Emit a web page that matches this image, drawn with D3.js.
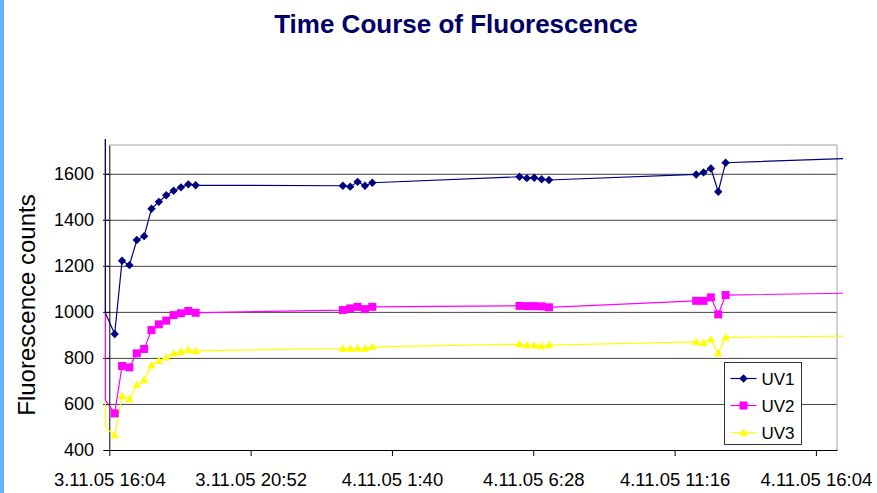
<!DOCTYPE html>
<html>
<head>
<meta charset="utf-8">
<script src="https://cdn.jsdelivr.net/npm/d3@7"></script>
<style>
  body { margin: 0; background: #fff; }
  text { font-family: "Liberation Sans", Arial, sans-serif; }
</style>
</head>
<body>
<script>
(function () {
	"use strict";

	// --- data ---
	let times = [
		"3.11.05 15:56", "3.11.05 15:56", "3.11.05 16:00",
		"3.11.05 16:15", "3.11.05 16:30", "3.11.05 16:45", "3.11.05 17:00", "3.11.05 17:15", "3.11.05 17:30",
		"3.11.05 17:45", "3.11.05 18:00", "3.11.05 18:15", "3.11.05 18:30", "3.11.05 18:45", "3.11.05 19:00",
		"4.11.05 0:00", "4.11.05 0:15", "4.11.05 0:30", "4.11.05 0:45", "4.11.05 1:00",
		"4.11.05 6:00", "4.11.05 6:15", "4.11.05 6:30", "4.11.05 6:45", "4.11.05 7:00",
		"4.11.05 12:00", "4.11.05 12:15", "4.11.05 12:30", "4.11.05 12:45", "4.11.05 13:00",
		"4.11.05 17:00"
	];
	let uv1 = [2000, 995, 976, 904, 1222, 1203, 1312, 1329, 1448, 1478, 1507, 1526, 1541, 1554, 1550,
		1548, 1544, 1565, 1548, 1561, 1587, 1581, 1583, 1576, 1573, 1597, 1606, 1623, 1522, 1648, 1666];
	let uv2 = [2000, 617, 604, 559, 765, 759, 820, 839, 921, 946, 962, 986, 994, 1004, 996,
		1008, 1015, 1022, 1012, 1022, 1026, 1025, 1025, 1024, 1020, 1048, 1048, 1063, 989, 1073, 1081];
	let uv3 = [2000, 508, 491, 465, 636, 621, 682, 704, 768, 787, 803, 820, 827, 834, 831,
		841, 841, 842, 841, 848, 860, 855, 856, 852, 856, 870, 866, 881, 820, 889, 895];
	let seriesNames = ["UV1", "UV2", "UV3"];
	let xTickLabels = ["3.11.05 16:04", "3.11.05 20:52", "4.11.05 1:40", "4.11.05 6:28", "4.11.05 11:16", "4.11.05 16:04"];
	let xDomain = ["3.11.05 16:04", "4.11.05 16:47"];
	let yTicks = [400, 600, 800, 1000, 1200, 1400, 1600];
	let yDomain = [400, 1725];

	let w = 877;
	let h = 493;
	let left = 109.3, right = 837, top = 145, bottom = 450;

	let parse = d3.timeParse("%d.%m.%y %H:%M");
	let fmt = d3.timeFormat("%-d.%m.%y %-H:%M");

	let svg = d3.select("body").append("svg")
		.attr("width", w).attr("height", h);

	svg.append("rect").attr("width", w).attr("height", h).attr("fill", "#fff");
	svg.append("rect").attr("width", 4).attr("height", h).attr("fill", "#66b3ff");

	let x = d3.scaleTime()
		.domain(xDomain.map(parse))
		.range([left, right]);

	let y = d3.scaleLinear()
		.domain(yDomain)
		.range([bottom, top]);

	// title
	svg.append("text")
		.attr("x", 456).attr("y", 33)
		.attr("text-anchor", "middle")
		.style("font-size", "26px").style("font-weight", "bold")
		.attr("fill", "#000066")
		.text("Time Course of Fluorescence");

	// gridlines
	let grid = svg.append("g").attr("transform", `translate(${left},0)`)
		.call(d3.axisLeft(y).tickValues(yTicks.slice(1)).tickSize(-(right - left)).tickFormat(""));
	grid.select(".domain").remove();
	grid.selectAll("line").attr("stroke", "#444").attr("x1", -6);

	// plot border top/right
	svg.append("path")
		.attr("d", `M${left},${top}H${right}V${bottom}`)
		.attr("fill", "none").attr("stroke", "#a0a0a0");

	// y axis
	let yAxis = svg.append("g").attr("transform", `translate(${left},0)`)
		.call(d3.axisLeft(y).tickValues(yTicks).tickFormat(d3.format("d"))
			.tickSize(6).tickPadding(9.3).tickSizeOuter(0));
	yAxis.select(".domain").attr("stroke", "#000");
	yAxis.selectAll("text").style("font-size", "18px").attr("fill", "#000");

	// x axis
	let xAxis = svg.append("g").attr("transform", `translate(0,${bottom})`)
		.call(d3.axisBottom(x).tickValues(xTickLabels.map(parse)).tickFormat(fmt)
			.tickSize(6).tickPadding(16.9).tickSizeOuter(0));
	xAxis.selectAll("text").style("font-size", "18.5px").attr("fill", "#000");

	svg.append("text")
		.attr("transform", "translate(35,305) rotate(-90)")
		.attr("text-anchor", "middle")
		.style("font-size", "24px")
		.text("Fluorescence counts");

	// series
	let colors = ["#000080", "#ff00ff", "#ffff00"];
	let shapes = [
		"M0,-4.2L4.2,0L0,4.2L-4.2,0Z",
		"M-4,-4H4V4H-4Z",
		"M0,-4.3L4.2,3.2L-4.2,3.2Z"
	];
	let dates = times.map(parse);
	let series = [uv1, uv2, uv3].map((vals, i) => ({
		name: seriesNames[i],
		color: colors[i],
		shape: shapes[i],
		points: vals.map((v, j) => ({ t: dates[j], v: v }))
	}));

	svg.append("clipPath").attr("id", "clip")
		.append("rect")
		.attr("x", left - 6).attr("y", top - 6)
		.attr("width", right - left + 12).attr("height", bottom - top + 12);

	let line = d3.line().x(d => x(d.t)).y(d => y(d.v));
	let t0 = x.domain()[0], t1 = x.domain()[1];

	series.slice().reverse().forEach(function (s) {
		svg.append("path")
			.datum(s.points)
			.attr("clip-path", "url(#clip)")
			.attr("d", line)
			.attr("fill", "none")
			.attr("stroke", s.color)
			.attr("stroke-width", 1.2);

		svg.append("g").selectAll("path")
			.data(s.points.filter(d => d.t >= t0 && d.t <= t1))
			.enter()
			.append("path")
			.attr("transform", d => `translate(${x(d.t)},${y(d.v)})`)
			.attr("d", s.shape)
			.attr("fill", s.color);
	});

	// legend
	let lg = svg.append("g").attr("transform", "translate(724.5,362.5)");
	lg.append("rect").attr("width", 77).attr("height", 82)
		.attr("fill", "#fff").attr("stroke", "#333");
	series.forEach(function (s, i) {
		let yy = 16 + i * 27;
		lg.append("line").attr("x1", 6).attr("x2", 32).attr("y1", yy).attr("y2", yy)
			.attr("stroke", s.color).attr("stroke-width", 1.2);
		lg.append("path").attr("transform", `translate(19,${yy})`).attr("d", s.shape).attr("fill", s.color);
		lg.append("text").attr("x", 37).attr("y", yy).attr("dy", "0.36em")
			.style("font-size", "17px").text(s.name);
	});

})();
</script>
</body>
</html>
